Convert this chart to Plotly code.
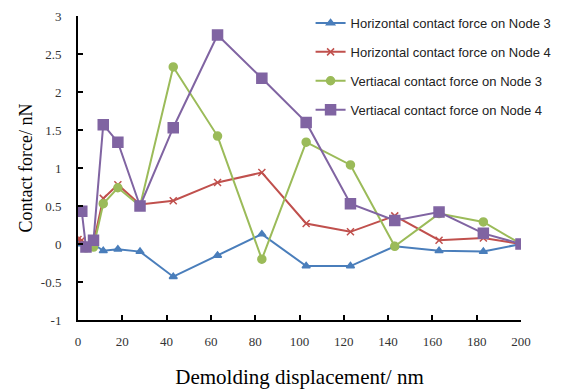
import plotly.graph_objects as go

# Data
x_h3 = [0, 3.6, 7, 11.4, 18, 28, 43, 63, 83, 103, 123, 143, 163, 183, 200]
y_h3 = [0.0, -0.03, 0.0, -0.09, -0.07, -0.10, -0.43, -0.15, 0.13, -0.29, -0.29, -0.03, -0.09, -0.10, 0.0]

x_h4 = [0, 1.7, 3.6, 7, 11.4, 18, 28, 43, 63, 83, 103, 123, 143, 163, 183, 200]
y_h4 = [0.06, 0.05, -0.02, 0.02, 0.60, 0.78, 0.52, 0.57, 0.81, 0.94, 0.27, 0.16, 0.37, 0.05, 0.08, 0.0]

x_v3 = [3.6, 7, 11.4, 18, 28, 43, 63, 83, 103, 123, 143, 163, 183, 200]
y_v3 = [-0.05, -0.04, 0.53, 0.74, 0.50, 2.33, 1.42, -0.20, 1.34, 1.04, -0.03, 0.40, 0.29, 0.0]

x_v4 = [1.7, 3.6, 7, 11.4, 18, 28, 43, 63, 83, 103, 123, 143, 163, 183, 200]
y_v4 = [0.43, -0.04, 0.05, 1.57, 1.34, 0.50, 1.53, 2.75, 2.18, 1.60, 0.53, 0.31, 0.42, 0.14, 0.0]

names = ["Horizontal contact force on Node 3", "Horizontal contact force on Node 4",
         "Vertiacal contact force on Node 3", "Vertiacal contact force on Node 4"]
colors = ["#4A7EBB", "#C0504D", "#9BBB59", "#8064A2"]
symbols = ["triangle-up", "x-thin", "circle", "square"]
sizes = [7, 7, 8, 10]

x_ticks = [0, 20, 40, 60, 80, 100, 120, 140, 160, 180, 200]
x_ticktext = ["0", "20", "40", "60", "80", "100", "120", "140", "160", "180", "200"]
y_ticks = [-1, -0.5, 0, 0.5, 1, 1.5, 2, 2.5, 3]
y_ticktext = ["-1", "-0.5", "0", "0.5", "1", "1.5", "2", "2.5", "3"]

fig = go.Figure()
series = [(x_h3, y_h3), (x_h4, y_h4), (x_v3, y_v3), (x_v4, y_v4)]
for i, (xs, ys) in enumerate(series):
    fig.add_trace(go.Scatter(
        x=xs, y=ys, mode="lines+markers", name=names[i],
        legendgroup=str(i),
        line=dict(color=colors[i], width=2),
        marker=dict(symbol=symbols[i], size=sizes[i], color=colors[i],
                    line=dict(color=colors[i], width=1.5)),
    ))

# page body adds an 8px offset, so the figure is 8px smaller than the window
fig.update_layout(
    width=553, height=384,
    margin=dict(l=70, r=40, t=8, b=72, autoexpand=False),
    paper_bgcolor="white", plot_bgcolor="white",
    showlegend=True,
    legend=dict(x=0.525, y=1.0, xanchor="left", yanchor="top", yref="container",
                bgcolor="rgba(0,0,0,0)", traceorder="grouped", tracegroupgap=9,
                font=dict(family="Liberation Sans", size=13, color="#222")),
    font=dict(family="Liberation Serif", color="black"),
)
fig.update_xaxes(
    range=[0, 200], tickvals=x_ticks, ticktext=x_ticktext,
    showline=True, linecolor="black", linewidth=2,
    ticks="inside", ticklen=5, tickwidth=2, tickcolor="black",
    showgrid=False, zeroline=False, automargin=False,
    tickfont=dict(family="Liberation Serif", size=13, color="#333"),
    ticklabelstandoff=8,
    title=dict(text="Demolding displacement/ nm", font=dict(family="Liberation Serif", size=21), standoff=22),
)
fig.update_yaxes(
    range=[-1, 3], tickvals=y_ticks, ticktext=y_ticktext,
    showline=True, linecolor="black", linewidth=2,
    ticks="inside", ticklen=5, tickwidth=2, tickcolor="black",
    showgrid=False, zeroline=False, automargin=False,
    tickfont=dict(family="Liberation Serif", size=13, color="#333"),
    ticklabelstandoff=12,
    title=dict(text="Contact force/ nN", font=dict(family="Liberation Serif", size=18), standoff=4),
)

fig.write_html("out.html")
